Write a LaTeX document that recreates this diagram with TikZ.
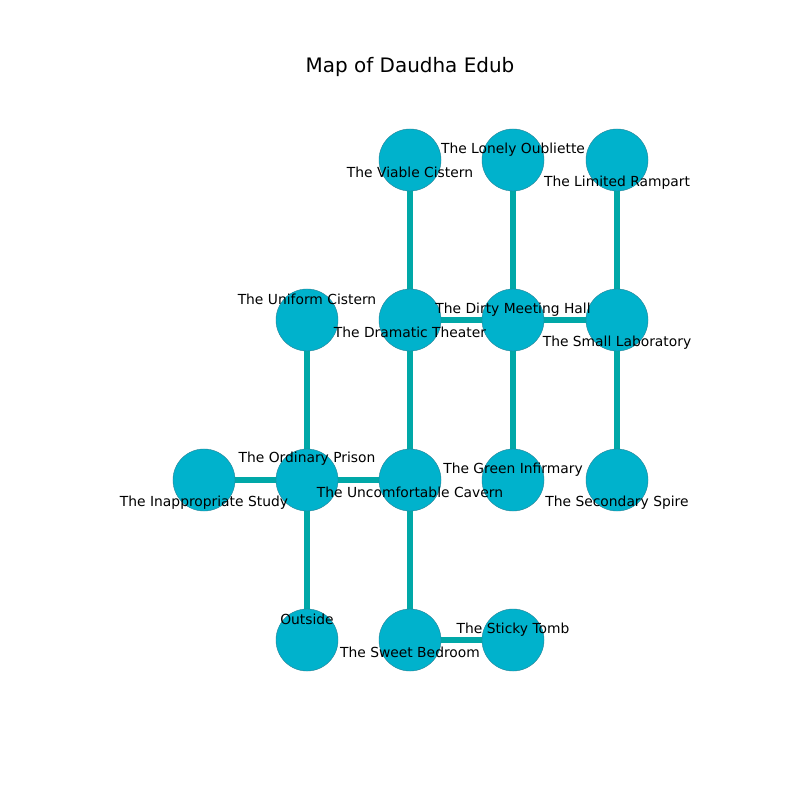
\documentclass[tikz,border=0pt]{standalone}
\usepackage{fontspec}
\setmainfont{DejaVu Sans}
\usetikzlibrary{backgrounds}

\definecolor{roomfill}{RGB}{0,178,204}
\definecolor{roomedge}{RGB}{40,130,150}
\definecolor{passage}{RGB}{0,168,168}

\begin{document}
\begin{tikzpicture}[%
    x=0.01in, y=-0.01in,       % one unit is one pixel of the 800x800 frame
    every node/.style={font=\fontsize{10}{12}\selectfont},
    ]
% -------------------------------------------------
% Styles for rooms, their names and the passages
\tikzset{
  room/.style={circle, draw=roomedge, fill=roomfill, line width=0.3pt,
    minimum size=0.62in, inner sep=0pt},
  roomname/.style={inner sep=0pt, text=black},
  passage/.style={draw=passage, line width=3.8pt},
  title/.style={font=\fontsize{14.4}{17}\selectfont}
}
\useasboundingbox (0,0) rectangle (800,800);
% -------------------------------------------------
% Title
\node [title] (title) at (410,67) {Map of Daudha Edub};
% -------------------------------------------------
% Rooms, row by row
\node [room] (viable)    at (410,160) {};
\node [room] (lonely)    at (513,160) {};
\node [room] (rampart)   at (617,160) {};
\node [room] (uniform)   at (307,320) {};
\node [room] (dramatic)  at (410,320) {};
\node [room] (dirty)     at (513,320) {};
\node [room] (lab)       at (617,320) {};
\node [room] (study)     at (204,480) {};
\node [room] (prison)    at (307,480) {};
\node [room] (cavern)    at (410,480) {};
\node [room] (infirmary) at (513,480) {};
\node [room] (spire)     at (617,480) {};
\node [room] (outside)   at (307,640) {};
\node [room] (bedroom)   at (410,640) {};
\node [room] (tomb)      at (513,640) {};
% -------------------------------------------------
% Passages go behind the rooms
\begin{scope}[on background layer]
\draw [passage] (viable) -- (dramatic);
\draw [passage] (lonely) -- (dirty);
\draw [passage] (rampart) -- (lab);
\draw [passage] (dramatic) -- (dirty);
\draw [passage] (dirty) -- (lab);
\draw [passage] (uniform) -- (prison);
\draw [passage] (dramatic) -- (cavern);
\draw [passage] (dirty) -- (infirmary);
\draw [passage] (lab) -- (spire);
\draw [passage] (study) -- (prison);
\draw [passage] (prison) -- (cavern);
\draw [passage] (prison) -- (outside);
\draw [passage] (cavern) -- (bedroom);
\draw [passage] (bedroom) -- (tomb);
\end{scope}
% -------------------------------------------------
% Room names, placed on top of every circle
\node [roomname] (n-viable)    at ([shift={(0,12)}] viable)     {The Viable Cistern};
\node [roomname] (n-lonely)    at ([shift={(0,-10)}] lonely)    {The Lonely Oubliette};
\node [roomname] (n-rampart)   at ([shift={(0,23)}] rampart)    {The Limited Rampart};
\node [roomname] (n-uniform)   at ([shift={(0,-21)}] uniform)   {The Uniform Cistern};
\node [roomname] (n-dramatic)  at ([shift={(0,12)}] dramatic)   {The Dramatic Theater};
\node [roomname] (n-dirty)     at ([shift={(0,-10)}] dirty)     {The Dirty Meeting Hall};
\node [roomname] (n-lab)       at ([shift={(0,23)}] lab)        {The Small Laboratory};
\node [roomname] (n-study)     at ([shift={(0,23)}] study)      {The Inappropriate Study};
\node [roomname] (n-prison)    at ([shift={(0,-21)}] prison)    {The Ordinary Prison};
\node [roomname] (n-cavern)    at ([shift={(0,12)}] cavern)     {The Uncomfortable Cavern};
\node [roomname] (n-infirmary) at ([shift={(0,-10)}] infirmary) {The Green Infirmary};
\node [roomname] (n-spire)     at ([shift={(0,23)}] spire)      {The Secondary Spire};
\node [roomname] (n-outside)   at ([shift={(0,-21)}] outside)   {Outside};
\node [roomname] (n-bedroom)   at ([shift={(0,12)}] bedroom)    {The Sweet Bedroom};
\node [roomname] (n-tomb)      at ([shift={(0,-10)}] tomb)      {The Sticky Tomb};
% -------------------------------------------------
\end{tikzpicture}
\end{document}
